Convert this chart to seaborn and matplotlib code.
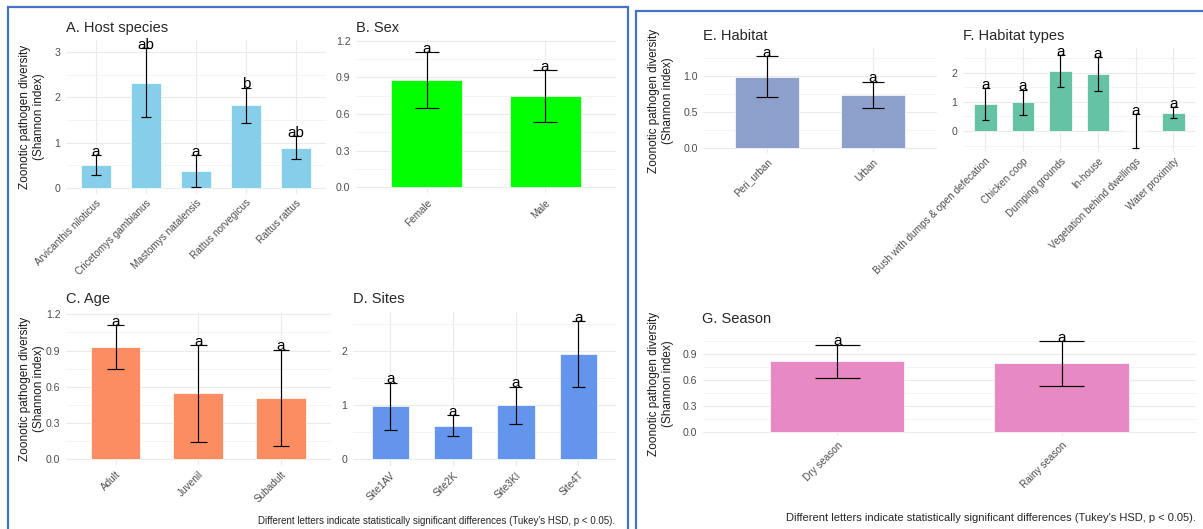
import numpy as np
import pandas as pd
import matplotlib
matplotlib.use("Agg")
import matplotlib.pyplot as plt
import seaborn as sns

# Data (mean Shannon index, +/- error, Tukey letters)
host_species = ["Arvicanthis niloticus", "Cricetomys gambianus", "Mastomys natalensis",
                "Rattus norvegicus", "Rattus rattus"]
host_mean = [0.50, 2.33, 0.37, 1.83, 0.89]
host_err = [0.22, 0.76, 0.35, 0.39, 0.25]
host_letters = ["a", "ab", "a", "b", "ab"]

sex_groups = ["Female", "Male"]
sex_mean = [0.877, 0.748]
sex_err = [0.23, 0.21]
sex_letters = ["a", "a"]

age_groups = ["Adult", "Juvenil", "Subadult"]
age_mean = [0.93, 0.546, 0.507]
age_err = [0.18, 0.40, 0.40]
age_letters = ["a", "a", "a"]

sites = ["Site1AV", "Site2K", "Site3KI", "Site4T"]
site_mean = [0.98, 0.62, 1.00, 1.94]
site_err = [0.435, 0.19, 0.34, 0.605]
site_letters = ["a", "a", "a", "a"]

habitat = ["Peri_urban", "Urban"]
habitat_mean = [0.986, 0.734]
habitat_err = [0.285, 0.185]
habitat_letters = ["a", "a"]

habitat_types = ["Bush with dumps & open defecation", "Chicken coop", "Dumping grounds",
                 "In-house", "Vegetation behind dwellings", "Water proximity"]
htype_mean = [0.91, 0.98, 2.05, 1.95, 0.0, 0.63]
htype_err = [0.55, 0.43, 0.55, 0.57, 0.57, 0.19]
htype_letters = ["a", "a", "a", "a", "a", "a"]

seasons = ["Dry season", "Rainy season"]
season_mean = [0.815, 0.792]
season_err = [0.195, 0.257]
season_letters = ["a", "a"]

ticks_int3 = [0, 1, 2, 3]
ticks_int2 = [0, 1, 2]
ticks_03 = [0.0, 0.3, 0.6, 0.9, 1.2]
ticks_05 = [0.0, 0.5, 1.0]
ticks_season = [0.0, 0.3, 0.6, 0.9]

NOTE = "Different letters indicate statistically significant differences (Tukey's HSD, p < 0.05)."
YLAB = "Zoonotic pathogen diversity\n(Shannon index)"

sns.set_style("white")
plt.rcParams["font.family"] = ["Liberation Sans", "DejaVu Sans"]

W, H = 1203, 529
fig = plt.figure(figsize=(W / 100, H / 100), dpi=100)


def add_panel(left, top, right, bottom):
    return fig.add_axes([left / W, 1 - bottom / H, (right - left) / W, (bottom - top) / H])


def draw_panel(ax, cats, means, errs, letters, color, title, ylim, ticks, fmt,
               ylabel_x=None):
    df = pd.DataFrame({"group": cats, "mean": means})
    sns.barplot(data=df, x="group", y="mean", color=color, saturation=1, width=0.6,
                errorbar=None, edgecolor="white", linewidth=0.5, ax=ax, zorder=2)
    x = np.arange(len(cats))
    m = np.array(means)
    e = np.array(errs)
    ax.vlines(x, m - e, m + e, color="black", lw=0.85, zorder=3)
    ax.hlines(m - e, x - 0.1, x + 0.1, color="black", lw=0.85, zorder=3)
    ax.hlines(m + e, x - 0.1, x + 0.1, color="black", lw=0.85, zorder=3)
    for xi, top, lab in zip(x, m + e, letters):
        ax.annotate(lab, (xi, top), xytext=(0, 2.5), textcoords="offset points",
                    ha="center", va="center", fontsize=11, color="black", zorder=4)

    ax.set_xlim(-0.6, len(cats) - 0.4)
    ax.set_ylim(*ylim)
    ax.set_yticks(ticks)
    ax.set_yticklabels([fmt.format(t) for t in ticks])
    minor = [t + (ticks[1] - ticks[0]) / 2 for t in [ticks[0] - (ticks[1] - ticks[0])] + ticks]
    ax.set_yticks([t for t in minor if ylim[0] <= t <= ylim[1]], minor=True)
    ax.set_xticks(x)
    ax.set_xticklabels(cats, rotation=45, ha="right", rotation_mode="anchor")
    ax.tick_params(axis="both", length=0, labelcolor="#4D4D4D")
    ax.tick_params(axis="y", pad=4, labelsize=7.6)
    ax.tick_params(axis="x", pad=3, labelsize=7.2)
    ax.tick_params(axis="y", which="minor", length=0)
    ax.grid(axis="y", which="major", color="#EBEBEB", lw=0.8, zorder=0)
    ax.grid(axis="y", which="minor", color="#F2F2F2", lw=0.6, zorder=0)
    ax.grid(axis="x", which="major", color="#EBEBEB", lw=0.8, zorder=0)
    ax.set_axisbelow(True)
    for s in ax.spines.values():
        s.set_visible(False)
    ax.set_xlabel("")
    ax.set_title(title, loc="left", fontsize=10.5, pad=6)
    if ylabel_x is not None:
        ax.set_ylabel(YLAB, fontsize=8.5, color="#1A1A1A", linespacing=1.2)
        ax.yaxis.set_label_coords((ylabel_x - ax.get_position().x0 * W) /
                                  (ax.get_position().width * W), 0.5)
    else:
        ax.set_ylabel("")


axA = add_panel(66, 40.2, 326, 193.6)
draw_panel(axA, host_species, host_mean, host_err, host_letters, "#87CEEB",
           "A. Host species", (-0.13, 3.27), ticks_int3, "{:.0f}", ylabel_x=45)

axB = add_panel(356, 40, 616, 193.4)
draw_panel(axB, sex_groups, sex_mean, sex_err, sex_letters, "#00FF00",
           "B. Sex", (-0.05, 1.207), ticks_03, "{:.1f}")

axC = add_panel(66, 311.7, 330.6, 465.3)
draw_panel(axC, age_groups, age_mean, age_err, age_letters, "#FC8D62",
           "C. Age", (-0.05, 1.222), ticks_03, "{:.1f}", ylabel_x=45)

axD = add_panel(352.7, 311.7, 616, 465.8)
draw_panel(axD, sites, site_mean, site_err, site_letters, "#6495ED",
           "D. Sites", (-0.12, 2.723), ticks_int2, "{:.0f}")

axE = add_panel(703.4, 48.3, 936.6, 152.7)
draw_panel(axE, habitat, habitat_mean, habitat_err, habitat_letters, "#8DA0CB",
           "E. Habitat", (-0.06, 1.377), ticks_05, "{:.1f}", ylabel_x=674)

axF = add_panel(962.7, 48.3, 1195.9, 151.7)
draw_panel(axF, habitat_types, htype_mean, htype_err, htype_letters, "#66C2A5",
           "F. Habitat types", (-0.71, 2.83), ticks_int2, "{:.0f}")

axG = add_panel(702.5, 331, 1196.2, 436.4)
draw_panel(axG, seasons, season_mean, season_err, season_letters, "#E78AC3",
           "G. Season", (-0.055, 1.167), ticks_season, "{:.1f}", ylabel_x=674)

# footnotes
fig.text(615 / W, 1 - 521 / H, NOTE, ha="right", va="center", fontsize=7.0)
fig.text(1196 / W, 1 - 518 / H, NOTE, ha="right", va="center", fontsize=8.0)

# blue frames around the two halves
for x0, y0, x1 in [(8, 7, 628), (636, 11, 1215)]:
    fig.patches.append(plt.Rectangle((x0 / W, 1 - 540 / H), (x1 - x0) / W, (540 - y0) / H,
                                     transform=fig.transFigure, fill=False,
                                     edgecolor="#4472C4", lw=1.6, zorder=10))

fig.savefig("out.png", dpi=100)
